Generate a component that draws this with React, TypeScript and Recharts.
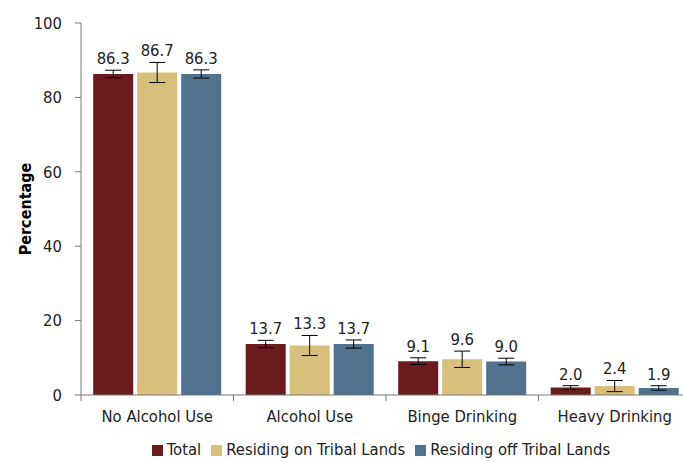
import React from "react";
import {
  Bar,
  BarChart,
  ErrorBar,
  LabelList,
  Legend,
  XAxis,
  YAxis,
} from "recharts";

const categories = ["No Alcohol Use", "Alcohol Use", "Binge Drinking", "Heavy Drinking"];
const seriesNames = ["Total", "Residing on Tribal Lands", "Residing off Tribal Lands"];
const totalValues = [86.3, 13.7, 9.1, 2.0];
const onTribalValues = [86.7, 13.3, 9.6, 2.4];
const offTribalValues = [86.3, 13.7, 9.0, 1.9];
const totalErrors = [1.0, 1.0, 0.9, 0.5];
const onTribalErrors = [2.7, 2.7, 2.2, 1.5];
const offTribalErrors = [1.1, 1.1, 0.9, 0.6];
const yTicks = [0, 20, 40, 60, 80, 100];

const data = categories.map((name, i) => ({
  name,
  total: totalValues[i],
  totalErr: totalErrors[i],
  onTribal: onTribalValues[i],
  onTribalErr: onTribalErrors[i],
  offTribal: offTribalValues[i],
  offTribalErr: offTribalErrors[i],
}));

const FONT = "'Liberation Sans Narrow', 'DejaVu Sans Condensed', Arial, sans-serif";
const TEXT = "#222";
const AXIS = "#777";

const CHART_H = 461;
const TOP = 23;
const PLOT_H = 371.5;
const PX_PER_UNIT = PLOT_H / 100;

const makeLabel = (errors: number[]) => (props: any) => {
  const { x, y, width, value, index } = props;
  const err = errors[index] ?? 0;
  return (
    <text
      x={Number(x) + Number(width) / 2}
      y={Number(y) - err * PX_PER_UNIT - 6}
      textAnchor="middle"
      fill={TEXT}
      fontSize={16.5}
      fontFamily={FONT}
    >
      {Number(value).toFixed(1)}
    </text>
  );
};

const XTick = (props: any) => {
  const { x, y, payload } = props;
  const left = x - (payload.offset ?? 0);
  return (
    <g>
      <line x1={left} x2={left} y1={y - 8} y2={y - 2} stroke={AXIS} />
      <text x={x} y={y + 19} textAnchor="middle" fill={TEXT} fontSize={16.5} fontFamily={FONT}>
        {payload.value}
      </text>
    </g>
  );
};

export default function App() {
  return (
    <div
      style={{
        position: "absolute",
        left: 0,
        top: 0,
        width: 683,
        height: CHART_H,
        overflow: "hidden",
        background: "#fff",
      }}
    >
      <BarChart
        width={700}
        height={CHART_H}
        data={data}
        margin={{ top: TOP, right: 9, left: 0, bottom: 0 }}
        barCategoryGap="8%"
        barGap={4}
      >
        <XAxis
          dataKey="name"
          height={40}
          tickLine={false}
          stroke={AXIS}
          tick={<XTick />}
          interval={0}
        />
        <YAxis
          domain={[0, 100]}
          ticks={yTicks}
          width={81}
          tickSize={6}
          tickMargin={13}
          stroke={AXIS}
          tick={{ fill: TEXT, fontSize: 16.5, fontFamily: FONT }}
          label={{
            value: "Percentage",
            angle: -90,
            position: "insideLeft",
            offset: 25,
            style: { fill: "#000", fontSize: 16, fontWeight: "bold", fontFamily: FONT, textAnchor: "middle" },
          }}
        />
        <Legend
          verticalAlign="bottom"
          iconType="square"
          iconSize={11}
          height={26}
          itemSorter={(item: any) => seriesNames.indexOf(item.value)}
          wrapperStyle={{ fontFamily: FONT, fontSize: 16.5, bottom: -5, left: 81, width: 610 }}
          formatter={(v: string) => <span style={{ color: TEXT }}>{v}</span>}
        />
        <Bar dataKey="total" name={seriesNames[0]} fill="#6B1A1E" isAnimationActive={false}>
          <ErrorBar dataKey="totalErr" width={8} stroke="#000" strokeWidth={1} />
          <LabelList dataKey="total" content={makeLabel(totalErrors)} />
        </Bar>
        <Bar dataKey="onTribal" name={seriesNames[1]} fill="#D8BF7C" isAnimationActive={false}>
          <ErrorBar dataKey="onTribalErr" width={8} stroke="#000" strokeWidth={1} />
          <LabelList dataKey="onTribal" content={makeLabel(onTribalErrors)} />
        </Bar>
        <Bar dataKey="offTribal" name={seriesNames[2]} fill="#50728E" isAnimationActive={false}>
          <ErrorBar dataKey="offTribalErr" width={8} stroke="#000" strokeWidth={1} />
          <LabelList dataKey="offTribal" content={makeLabel(offTribalErrors)} />
        </Bar>
      </BarChart>
    </div>
  );
}
